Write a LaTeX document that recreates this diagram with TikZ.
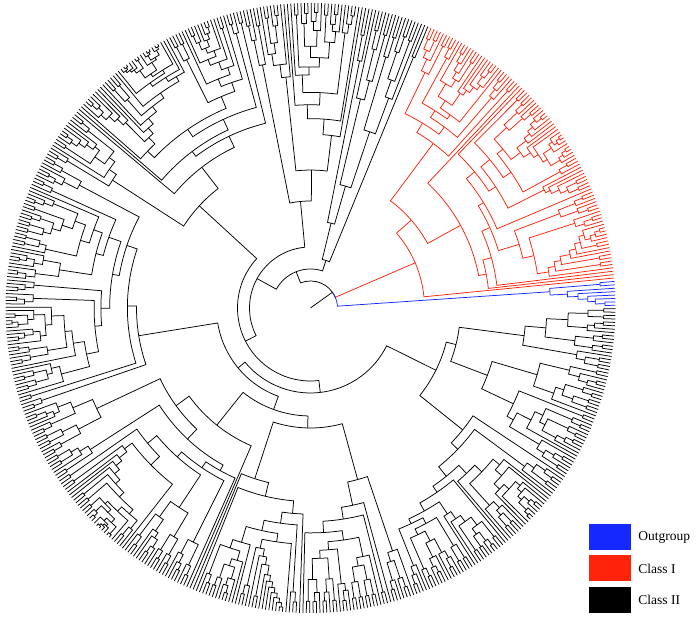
\documentclass[tikz,border=0pt]{standalone}
\usepackage{fontspec}
\setmainfont{Liberation Serif}
\usetikzlibrary{positioning}

\definecolor{outblue}{RGB}{20,40,255}
\definecolor{classred}{RGB}{255,35,10}

\tikzset{
  branch/.style={line width=0.75pt},
  legendbox/.style={minimum width=42pt, minimum height=26pt, inner sep=0pt},
  legendtext/.style={inner sep=0pt, font=\fontsize{13.5}{16}\selectfont}
}

\pgfmathsetmacro{\outerR}{305}
\pgfmathsetmacro{\leafzero}{0.5}
\pgfmathsetmacro{\leafstep}{360/560}

% #1 first leaf, #2 number of leaves, #3 radius of the node, #4 colour
\newcommand{\clade}[4]{%
  \ifnum#2=1
    \pgfmathsetmacro{\leafangle}{\leafzero+#1*\leafstep}%
    \xdef\cladeangle{\leafangle}%
  \else
    \begingroup
    \pgfmathsetmacro{\u}{rnd}%
    \pgfmathtruncatemacro{\sm}{min(1+floor(floor(#2/2)*\u*\u), floor(#2/2))}%
    \pgfmathtruncatemacro{\kl}{rnd<0.5 ? \sm : #2-\sm}%
    \pgfmathtruncatemacro{\kr}{#2-\kl}%
    \pgfmathtruncatemacro{\ir}{#1+\kl}%
    \pgfmathsetmacro{\dd}{\outerR-#3}%
    \pgfmathsetmacro{\hn}{ln(#2)*(1+0.3*ln(#2))}%
    \pgfmathsetmacro{\hl}{ln(\kl)*(1+0.3*ln(\kl))}%
    \pgfmathsetmacro{\hr}{ln(\kr)*(1+0.3*ln(\kr))}%
    \pgfmathsetmacro{\rl}{\outerR-max(\dd*\hl/\hn*0.9, min(\dd-5-8*rnd, 14*\hl))}%
    \pgfmathsetmacro{\rr}{\outerR-max(\dd*\hr/\hn*0.9, min(\dd-5-8*rnd, 14*\hr))}%
    \edef\cladecall{\noexpand\clade{#1}{\kl}{\rl}{#4}}\cladecall
    \let\angl\cladeangle
    \edef\cladecall{\noexpand\clade{\ir}{\kr}{\rr}{#4}}\cladecall
    \let\angr\cladeangle
    \draw[branch,#4] (\angl:\rl) -- (\angl:#3) arc[start angle=\angl, end angle=\angr, radius=#3] -- (\angr:\rr);
    \pgfmathsetmacro{\angm}{(\angl+\angr)/2}%
    \xdef\cladeangle{\angm}%
    \endgroup
  \fi}

% #1 angle left, #2 radius left, #3 angle right, #4 radius right, #5 node radius, #6 colour
\newcommand{\joinclades}[6]{%
  \draw[branch,#6] (#1:#2) -- (#1:#5) arc[start angle=#1, end angle=#3, radius=#5] -- (#3:#4);
  \pgfmathsetmacro{\angj}{(#1+#3)/2}%
  \xdef\cladeangle{\angj}}

\begin{document}
\begin{tikzpicture}[x=1pt,y=1pt]
  \useasboundingbox (0,0) rectangle (700,617);
  \begin{scope}[shift={(310.5,309)}]
    \pgfmathsetseed{11}
    % outgroup and class I
    \clade{0}{8}{240}{outblue}\let\aOut\cladeangle
    \clade{8}{96}{114}{classred}\let\aOne\cladeangle
    % class II
    \clade{104}{20}{50}{black}\let\aA\cladeangle
    \clade{124}{36}{107}{black}\let\aB\cladeangle
    \clade{160}{73}{151}{black}\let\aC\cladeangle
    \clade{233}{78}{174}{black}\let\aD\cladeangle
    \clade{311}{73}{150}{black}\let\aE\cladeangle
    \clade{384}{67}{120}{black}\let\aF\cladeangle
    \clade{451}{57}{195}{black}\let\aG\cladeangle
    \clade{508}{52}{150}{black}\let\aH\cladeangle
    \joinclades{\aG}{195}{\aH}{150}{140}{black}\let\aGH\cladeangle
    \joinclades{\aE}{150}{\aF}{120}{108}{black}\let\aEF\cladeangle
    \joinclades{\aD}{174}{\aEF}{108}{94}{black}\let\aQ\cladeangle
    \joinclades{\aQ}{94}{\aGH}{140}{85}{black}\let\aP\cladeangle
    \joinclades{\aC}{151}{\aP}{85}{73}{black}\let\aM\cladeangle
    \joinclades{\aB}{107}{\aM}{73}{61}{black}\let\aN\cladeangle
    \joinclades{\aA}{50}{\aN}{61}{39}{black}\let\aTwo\cladeangle
    % root
    \pgfmathsetmacro{\aIn}{(\aOne+\aTwo)/2}
    \pgfmathsetmacro{\aRoot}{(\aOut+\aIn)/2}
    \draw[branch] (\aOne:27) arc[start angle=\aOne, end angle=\aTwo, radius=27] -- (\aTwo:39);
    \draw[branch,classred] (\aOne:27) -- (\aOne:114);
    \draw[branch,outblue] (\aOut:240) -- (\aOut:27) arc[start angle=\aOut, end angle=\aRoot, radius=27];
    \draw[branch] (0,0) -- (\aRoot:27);
  \end{scope}
  % legend
  \node[legendbox, fill=outblue] (boxout) at (609.5,80) {};
  \node[legendbox, fill=classred, below=5pt of boxout] (boxone) {};
  \node[legendbox, fill=black, below=5pt of boxone] (boxtwo) {};
  \node[legendtext, right=7.5pt of boxout] (txtout) {Outgroup};
  \node[legendtext, right=7.5pt of boxone] (txtone) {Class I};
  \node[legendtext, right=7.5pt of boxtwo] (txttwo) {Class II};
\end{tikzpicture}
\end{document}
